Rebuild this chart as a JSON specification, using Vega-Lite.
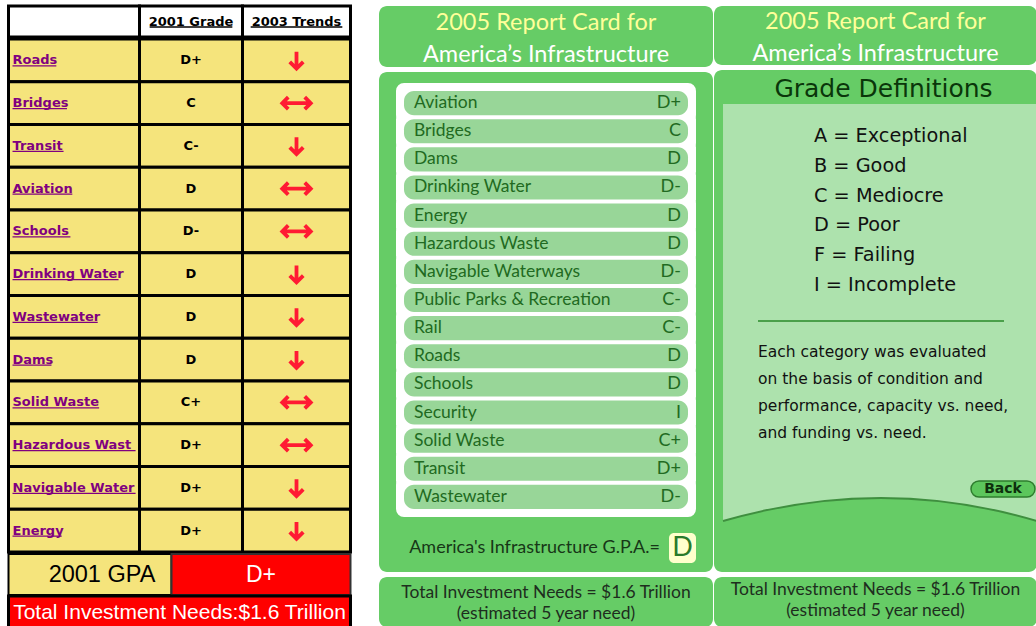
{
  "$schema": "https://vega.github.io/schema/vega-lite/v6.json",
  "background": "white",
  "padding": {"left": 6.5, "top": 4, "right": 0, "bottom": 0},
  "config": {
    "view": {"stroke": null},
    "axis": {"disable": true},
    "legend": {"disable": true},
    "text": {"font": "DejaVu Sans"}
  },
  "datasets": {
    "grades2001": [
      {"category": "Roads", "grade": "D+", "trend": "down"},
      {"category": "Bridges", "grade": "C", "trend": "steady"},
      {"category": "Transit", "grade": "C-", "trend": "down"},
      {"category": "Aviation", "grade": "D", "trend": "steady"},
      {"category": "Schools", "grade": "D-", "trend": "steady"},
      {"category": "Drinking Water", "grade": "D", "trend": "down"},
      {"category": "Wastewater", "grade": "D", "trend": "down"},
      {"category": "Dams", "grade": "D", "trend": "down"},
      {"category": "Solid Waste", "grade": "C+", "trend": "steady"},
      {"category": "Hazardous Waste", "grade": "D+", "trend": "steady"},
      {"category": "Navigable Waterways", "grade": "D+", "trend": "down"},
      {"category": "Energy", "grade": "D+", "trend": "down"}
    ],
    "headers2001": [
      {"column": "name", "label": ""},
      {"column": "grade", "label": "2001 Grade"},
      {"column": "trend", "label": "2003 Trends"}
    ],
    "summary2001": [
      {"label": "2001 GPA", "grade": "D+", "needs": "Total Investment Needs:$1.6 Trillion"}
    ],
    "grades2005": [
      {"category": "Aviation", "grade": "D+"},
      {"category": "Bridges", "grade": "C"},
      {"category": "Dams", "grade": "D"},
      {"category": "Drinking Water", "grade": "D-"},
      {"category": "Energy", "grade": "D"},
      {"category": "Hazardous Waste", "grade": "D"},
      {"category": "Navigable Waterways", "grade": "D-"},
      {"category": "Public Parks & Recreation", "grade": "C-"},
      {"category": "Rail", "grade": "C-"},
      {"category": "Roads", "grade": "D"},
      {"category": "Schools", "grade": "D"},
      {"category": "Security", "grade": "I"},
      {"category": "Solid Waste", "grade": "C+"},
      {"category": "Transit", "grade": "D+"},
      {"category": "Wastewater", "grade": "D-"}
    ],
    "summary2005": [
      {"label": "America's Infrastructure G.P.A.=", "grade": "D"}
    ],
    "cardTitle": [
      {"line": "top", "text": "2005 Report Card for"},
      {"line": "bottom", "text": "America’s Infrastructure"}
    ],
    "needs2005": [
      {"line": "top", "text": "Total Investment Needs = $1.6 Trillion"},
      {"line": "bottom", "text": "(estimated 5 year need)"}
    ],
    "definitionsHeading": [{"text": "Grade Definitions"}],
    "definitions": [
      {"grade": "A", "meaning": "Exceptional"},
      {"grade": "B", "meaning": "Good"},
      {"grade": "C", "meaning": "Mediocre"},
      {"grade": "D", "meaning": "Poor"},
      {"grade": "F", "meaning": "Failing"},
      {"grade": "I", "meaning": "Incomplete"}
    ],
    "note": [
      {"line": "1", "text": "Each category was evaluated"},
      {"line": "2", "text": "on the basis of condition and"},
      {"line": "3", "text": "performance, capacity vs. need,"},
      {"line": "4", "text": "and funding vs. need."}
    ],
    "button": [{"label": "Back"}]
  },
  "spacing": 26.5,
  "hconcat": [
    {
      "spacing": -3,
      "vconcat": [
        {
          "spacing": 0,
          "bounds": "flush",
          "hconcat": [
            {
              "width": 131, "height": 31,
              "view": {"fill": "white", "stroke": "black", "strokeWidth": 3},
              "data": {"name": "headers2001"},
              "transform": [{"filter": "datum.column === 'name'"}],
              "mark": {"type": "text"},
              "encoding": {"text": {"field": "label"}}
            },
            {
              "width": 103, "height": 31,
              "view": {"fill": "white", "stroke": "black", "strokeWidth": 3},
              "data": {"name": "headers2001"},
              "transform": [
                {"filter": "datum.column === 'grade'"},
                {"calculate": "length(replace(datum.label, regexp('[^iljtfr ]', 'g'), ''))", "as": "narrow"},
                {"calculate": "6.5 * (0.42 * datum.narrow + 0.69 * (length(datum.label) - datum.narrow))", "as": "half"},
                {"calculate": "-datum.half", "as": "neg"}
              ],
              "encoding": {"y": {"field": "column", "type": "nominal", "scale": {"type": "band", "paddingInner": 0, "paddingOuter": 0}}},
              "layer": [
                {
                  "mark": {"type": "text", "fontWeight": "bold", "fontSize": 13, "fill": "black"},
                  "encoding": {"text": {"field": "label"}}
                },
                {
                  "mark": {"type": "rule", "stroke": "black", "strokeWidth": 1.3, "yOffset": 5.5},
                  "encoding": {
                    "x": {"field": "neg", "type": "quantitative", "scale": {"domain": [-51.5, 51.5], "range": [0, 103]}},
                    "x2": {"field": "half"}
                  }
                }
              ]
            },
            {
              "width": 108, "height": 31,
              "view": {"fill": "white", "stroke": "black", "strokeWidth": 3},
              "data": {"name": "headers2001"},
              "transform": [
                {"filter": "datum.column === 'trend'"},
                {"calculate": "length(replace(datum.label, regexp('[^iljtfr ]', 'g'), ''))", "as": "narrow"},
                {"calculate": "6.5 * (0.42 * datum.narrow + 0.69 * (length(datum.label) - datum.narrow))", "as": "half"},
                {"calculate": "-datum.half", "as": "neg"}
              ],
              "encoding": {"y": {"field": "column", "type": "nominal", "scale": {"type": "band", "paddingInner": 0, "paddingOuter": 0}}},
              "layer": [
                {
                  "mark": {"type": "text", "fontWeight": "bold", "fontSize": 13, "fill": "black"},
                  "encoding": {"text": {"field": "label"}}
                },
                {
                  "mark": {"type": "rule", "stroke": "black", "strokeWidth": 1.3, "yOffset": 5.5},
                  "encoding": {
                    "x": {"field": "neg", "type": "quantitative", "scale": {"domain": [-54, 54], "range": [0, 108]}},
                    "x2": {"field": "half"}
                  }
                }
              ]
            }
          ]
        },
        {
          "spacing": 0,
          "bounds": "flush",
          "hconcat": [
            {
              "width": 131, "height": 513,
              "data": {"name": "grades2001"},
              "transform": [
                {"calculate": "length(replace(datum.category, regexp('[^iljtfr ]', 'g'), ''))", "as": "narrow"},
                {"calculate": "length(replace(datum.category, regexp('[^mwMW]', 'g'), ''))", "as": "wide"},
                {"calculate": "min(126, 13 * (0.42 * datum.narrow + 1.0 * datum.wide + 0.69 * (length(datum.category) - datum.narrow - datum.wide)))", "as": "w"},
                {"calculate": "0", "as": "start"}
              ],
              "encoding": {"y": {"field": "category", "type": "nominal", "sort": null, "scale": {"type": "band", "paddingInner": 0, "paddingOuter": 0}}},
              "layer": [
                {"mark": {"type": "rect", "fill": "#f5e47c", "stroke": "black", "strokeWidth": 3}},
                {
                  "mark": {"type": "text", "align": "left", "fontWeight": "bold", "fontSize": 13, "fill": "#800080", "limit": 126, "ellipsis": "\u200B"},
                  "encoding": {
                    "x": {"field": "start", "type": "quantitative", "scale": {"domain": [0, 127], "range": [4, 131]}},
                    "text": {"field": "category"}
                  }
                },
                {
                  "mark": {"type": "rule", "stroke": "#800080", "strokeWidth": 1.4, "yOffset": 5.5},
                  "encoding": {
                    "x": {"field": "start", "type": "quantitative"},
                    "x2": {"field": "w"}
                  }
                }
              ]
            },
            {
              "width": 103, "height": 513,
              "data": {"name": "grades2001"},
              "encoding": {"y": {"field": "category", "type": "nominal", "sort": null, "scale": {"type": "band", "paddingInner": 0, "paddingOuter": 0}}},
              "layer": [
                {"mark": {"type": "rect", "fill": "#f5e47c", "stroke": "black", "strokeWidth": 3}},
                {
                  "mark": {"type": "text", "fontWeight": "bold", "fontSize": 13, "fill": "black"},
                  "encoding": {"text": {"field": "grade"}}
                }
              ]
            },
            {
              "width": 108, "height": 513,
              "data": {"name": "grades2001"},
              "encoding": {"y": {"field": "category", "type": "nominal", "sort": null, "scale": {"type": "band", "paddingInner": 0, "paddingOuter": 0}}},
              "layer": [
                {"mark": {"type": "rect", "fill": "#f5e47c", "stroke": "black", "strokeWidth": 3}},
                {
                  "mark": {"type": "point", "filled": false, "stroke": "#ff1a33", "strokeWidth": 3.8, "size": 900, "opacity": 1, "strokeJoin": "miter"},
                  "encoding": {
                    "shape": {
                      "field": "trend", "type": "nominal",
                      "scale": {
                        "domain": ["down", "steady"],
                        "range": [
                          "M0,-0.58 L0,0.52 M-0.45,0.1 L0,0.55 L0.45,0.1",
                          "M-0.93,0 L0.93,0 M-0.55,-0.4 L-0.95,0 L-0.55,0.4 M0.55,-0.4 L0.95,0 L0.55,0.4"
                        ]
                      }
                    }
                  }
                }
              ]
            }
          ]
        },
        {
          "spacing": 0,
          "bounds": "flush",
          "hconcat": [
            {
              "width": 163, "height": 41,
              "view": {"fill": "#f5e47c", "stroke": "black", "strokeWidth": 2},
              "data": {"name": "summary2001"},
              "mark": {"type": "text", "font": "Liberation Sans", "fontSize": 23.5, "fill": "black", "dx": 12},
              "encoding": {"text": {"field": "label"}}
            },
            {
              "width": 179, "height": 41,
              "view": {"fill": "#ff0000", "stroke": "#333333", "strokeWidth": 2},
              "data": {"name": "summary2001"},
              "mark": {"type": "text", "font": "Liberation Sans", "fontSize": 23, "fill": "white"},
              "encoding": {"text": {"field": "grade"}}
            }
          ]
        },
        {
          "width": 342, "height": 33,
          "view": {"fill": "#ff0000", "stroke": "black", "strokeWidth": 3},
          "data": {"name": "summary2001"},
          "mark": {"type": "text", "font": "Liberation Sans", "fontSize": 21, "fill": "white"},
          "encoding": {"text": {"field": "needs"}}
        }
      ]
    },
    {
      "spacing": 1,
      "hconcat": [
        {
          "spacing": 5,
          "bounds": "flush",
          "vconcat": [
            {
              "width": 334, "height": 61,
              "view": {"fill": "#66cc66", "cornerRadius": 8},
              "data": {"name": "cardTitle"},
              "mark": {"type": "text", "font": "Lato", "fontSize": 23.5},
              "encoding": {
                "y": {"field": "line", "type": "nominal", "sort": null, "scale": {"type": "point", "padding": 0, "range": [17, 49]}},
                "text": {"field": "text"},
                "color": {"field": "line", "type": "nominal", "scale": {"domain": ["top", "bottom"], "range": ["#ffff99", "#ffffff"]}}
              }
            },
            {
              "width": 334, "height": 500,
              "view": {"fill": "#66cc66", "cornerRadius": 8},
              "resolve": {"scale": {"x": "independent", "y": "independent"}},
              "layer": [
                {
                  "data": {"name": "grades2005"},
                  "encoding": {
                    "x": {"datum": "list", "scale": {"type": "band", "paddingInner": 0, "paddingOuter": 0, "range": [25, 309]}},
                    "y": {"field": "category", "type": "nominal", "sort": null, "scale": {"type": "band", "paddingInner": 0.142, "paddingOuter": 0, "range": [19, 437]}}
                  },
                  "layer": [
                    {"mark": {"type": "rect", "fill": "white", "stroke": "white", "strokeWidth": 16, "strokeJoin": "round"}},
                    {"mark": {"type": "rect", "fill": "#98d698", "cornerRadius": 10}},
                    {
                      "mark": {"type": "text", "align": "left", "dx": 10, "font": "Lato", "fontSize": 17.5, "fill": "#216a21"},
                      "encoding": {"x": {"datum": "list", "bandPosition": 0}, "text": {"field": "category"}}
                    },
                    {
                      "mark": {"type": "text", "align": "right", "dx": -7, "font": "Lato", "fontSize": 18, "fill": "#216a21"},
                      "encoding": {"x": {"datum": "list", "bandPosition": 1}, "text": {"field": "grade"}}
                    }
                  ]
                },
                {
                  "data": {"name": "summary2005"},
                  "encoding": {
                    "x": {"datum": "gpa", "scale": {"type": "band", "paddingInner": 0, "paddingOuter": 0, "range": [290, 317]}},
                    "y": {"datum": "gpa", "scale": {"type": "band", "paddingInner": 0, "paddingOuter": 0, "range": [461, 491]}}
                  },
                  "layer": [
                    {"mark": {"type": "rect", "fill": "#ffffcc", "cornerRadius": 5}},
                    {
                      "mark": {"type": "text", "align": "right", "dx": -9, "font": "Lato", "fontSize": 18, "fill": "#173717"},
                      "encoding": {"x": {"datum": "gpa", "bandPosition": 0}, "text": {"field": "label"}}
                    },
                    {
                      "mark": {"type": "text", "font": "Lato", "fontSize": 27, "fill": "#2a7a2a"},
                      "encoding": {"text": {"field": "grade"}}
                    }
                  ]
                }
              ]
            },
            {
              "width": 334, "height": 50,
              "view": {"fill": "#66cc66", "cornerRadius": 8},
              "data": {"name": "needs2005"},
              "mark": {"type": "text", "font": "Lato", "fontSize": 17.5, "fill": "#1e2e1e"},
              "encoding": {
                "y": {"field": "line", "type": "nominal", "sort": null, "scale": {"type": "point", "padding": 0, "range": [16, 37]}},
                "text": {"field": "text"}
              }
            }
          ]
        },
        {
          "spacing": 5,
          "bounds": "flush",
          "vconcat": [
            {
              "width": 323, "height": 59,
              "view": {"fill": "#66cc66", "cornerRadius": 8},
              "data": {"name": "cardTitle"},
              "mark": {"type": "text", "font": "Lato", "fontSize": 23.5},
              "encoding": {
                "y": {"field": "line", "type": "nominal", "sort": null, "scale": {"type": "point", "padding": 0, "range": [16, 48]}},
                "text": {"field": "text"},
                "color": {"field": "line", "type": "nominal", "scale": {"domain": ["top", "bottom"], "range": ["#ffff99", "#ffffff"]}}
              }
            },
            {
              "width": 323, "height": 502,
              "view": {"fill": "#66cc66", "cornerRadius": 8},
              "resolve": {"scale": {"x": "independent", "y": "independent"}},
              "layer": [
                {
                  "data": {"values": [{}]},
                  "mark": {"type": "point", "shape": "M-0.5083,-0.7233 L0.5383,-0.7233 L0.5383,0.6667 Q0.0217,0.5133 -0.5083,0.6667 Z", "size": 360000, "filled": true, "fill": "#ade2ad", "strokeWidth": 0, "opacity": 1},
                  "encoding": {}
                },
                {
                  "data": {"values": [{}]},
                  "mark": {"type": "point", "shape": "M-0.5083,0.6667 Q0.0217,0.5133 0.5383,0.6667", "size": 360000, "filled": false, "stroke": "#3f8f3f", "strokeWidth": 2, "opacity": 1},
                  "encoding": {}
                },
                {
                  "data": {"name": "definitionsHeading"},
                  "mark": {"type": "text", "fontSize": 25, "fill": "#0a360a", "dx": 8},
                  "encoding": {
                    "y": {"datum": "heading", "scale": {"type": "point", "range": [0, 38]}},
                    "text": {"field": "text"}
                  }
                },
                {
                  "data": {"name": "definitions"},
                  "transform": [{"calculate": "datum.grade + ' = ' + datum.meaning", "as": "label"}],
                  "mark": {"type": "text", "align": "left", "fontSize": 19.3, "fill": "#111111"},
                  "encoding": {
                    "x": {"datum": "definitions", "scale": {"type": "point", "range": [0, 200]}},
                    "y": {"field": "grade", "type": "nominal", "sort": null, "scale": {"type": "point", "padding": 0, "range": [66, 215]}},
                    "text": {"field": "label"}
                  }
                },
                {
                  "data": {"values": [{}]},
                  "mark": {"type": "rect", "fill": "#4aa04a"},
                  "encoding": {
                    "x": {"datum": "rule", "scale": {"type": "band", "paddingInner": 0, "paddingOuter": 0, "range": [44, 290]}},
                    "y": {"datum": "rule", "scale": {"type": "band", "paddingInner": 0, "paddingOuter": 0, "range": [250, 252]}}
                  }
                },
                {
                  "data": {"name": "note"},
                  "mark": {"type": "text", "align": "left", "fontSize": 15.5, "fill": "#111111"},
                  "encoding": {
                    "x": {"datum": "note", "scale": {"type": "point", "range": [0, 88]}},
                    "y": {"field": "line", "type": "nominal", "sort": null, "scale": {"type": "point", "padding": 0, "range": [282, 363]}},
                    "text": {"field": "text"}
                  }
                },
                {
                  "data": {"name": "button"},
                  "encoding": {
                    "x": {"datum": "button", "scale": {"type": "band", "paddingInner": 0, "paddingOuter": 0, "range": [257, 321]}},
                    "y": {"datum": "button", "scale": {"type": "band", "paddingInner": 0, "paddingOuter": 0, "range": [411, 427]}}
                  },
                  "layer": [
                    {"mark": {"type": "rect", "fill": "#5cc65c", "stroke": "#2e7d2e", "strokeWidth": 1.5, "cornerRadius": 8}},
                    {
                      "mark": {"type": "text", "fontWeight": "bold", "fontSize": 14, "fill": "#0d300d"},
                      "encoding": {"text": {"field": "label"}}
                    }
                  ]
                }
              ]
            },
            {
              "width": 323, "height": 50,
              "view": {"fill": "#66cc66", "cornerRadius": 8},
              "data": {"name": "needs2005"},
              "mark": {"type": "text", "font": "Lato", "fontSize": 17.5, "fill": "#1e2e1e"},
              "encoding": {
                "y": {"field": "line", "type": "nominal", "sort": null, "scale": {"type": "point", "padding": 0, "range": [13, 34]}},
                "text": {"field": "text"}
              }
            }
          ]
        }
      ]
    }
  ]
}
